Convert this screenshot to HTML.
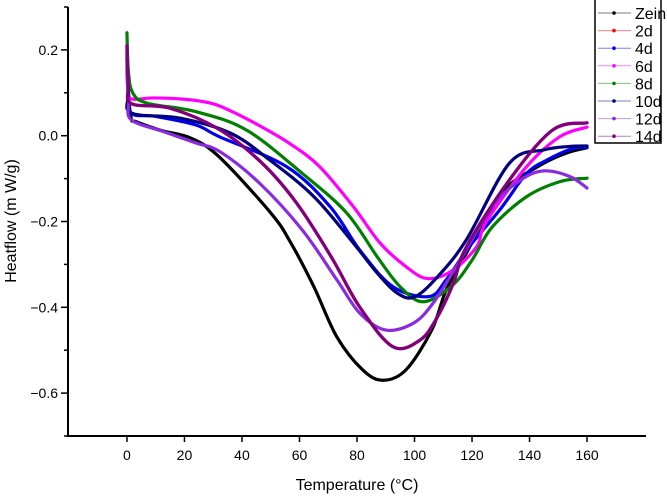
<!DOCTYPE html>
<html><head><meta charset="utf-8"><style>
body{margin:0;background:#fff}
svg{display:block;font-family:"Liberation Sans",Arial,sans-serif}
</style></head><body>
<svg id="chart" width="667" height="497" viewBox="0 0 667 497">
<g id="axes"></g>
<g id="series"></g>
<g id="legend"></g>
<text transform="translate(16,221) rotate(-90)" text-anchor="middle" font-size="16">Heatflow (m W/g)</text>
<text x="357" y="490" text-anchor="middle" font-size="16">Temperature (°C)</text>
</svg>
<script>
const seriesNames=["Zein","2d","4d","6d","8d","10d","12d","14d"];
const seriesColors=["#000000","#ff0000","#0000ee","#ff00ff","#008000","#000080","#8a2be2","#800080"];
const xTicks=[0,20,40,60,80,100,120,140,160];
const yTicks=[0.2,0.0,-0.2,-0.4,-0.6];
const yMinor=[0.3,0.1,-0.1,-0.3,-0.5,-0.7];
const tZein=[0,0.5,1.5,3,12,22,32,50,57,65,73,82,89,97,106,111,118,125,132,145,153,160];
const vZein=[0.19,0.1,0.04,0.033,0.012,-0.005,-0.049,-0.18,-0.25,-0.352,-0.469,-0.546,-0.57,-0.546,-0.453,-0.36,-0.274,-0.19,-0.12,-0.064,-0.04,-0.028];
const t2d=[0,0.5,1.5,15,32,47,59,71,81,92.5,102,108,113.5,118,133,148,160];
const v2d=[0.21,0.12,0.075,0.064,0.015,-0.064,-0.157,-0.282,-0.4,-0.492,-0.476,-0.422,-0.344,-0.26,-0.103,0.013,0.03];
const t4d=[0,0.5,1.5,10,24,32,55.5,70.6,81,92.5,105,111,119,130,139,146,155,160];
const v4d=[0.2,0.1,0.052,0.045,0.025,-0.002,-0.072,-0.165,-0.267,-0.352,-0.375,-0.336,-0.259,-0.17,-0.088,-0.057,-0.03,-0.028];
const t6d=[0,0.5,2,9,20,29,36,47,57,67,78.7,88,97,104.5,113,121.6,125,139,150.6,160];
const v6d=[0.15,0.1,0.085,0.088,0.085,0.076,0.058,0.02,-0.02,-0.072,-0.165,-0.25,-0.305,-0.333,-0.315,-0.259,-0.2,-0.072,-0.002,0.02];
const t8d=[0,0.5,2,7,24,41.6,61,76.4,87,95,103,113,120,127,139,150.6,160];
const v8d=[0.24,0.15,0.1,0.076,0.056,0.013,-0.088,-0.18,-0.282,-0.352,-0.387,-0.35,-0.29,-0.213,-0.142,-0.107,-0.099];
const t10d=[0,0.5,1.5,18.4,36,49.7,65,78.7,87,94,100,108,118,133,145,154,160];
const v10d=[0.18,0.1,0.053,0.041,0.006,-0.057,-0.142,-0.25,-0.32,-0.367,-0.376,-0.329,-0.243,-0.064,-0.033,-0.025,-0.024];
const t12d=[0,0.5,1.5,12.5,24,32.3,46,61,73,81,90,99.6,106.5,115,127,137,145,154,160];
const v12d=[0.15,0.08,0.037,0.01,-0.017,-0.037,-0.11,-0.22,-0.336,-0.414,-0.453,-0.437,-0.39,-0.3,-0.165,-0.103,-0.082,-0.095,-0.122];
const t14d=[0,0.5,1.5,15,32,47,59,71,81,92.5,102,108,113.5,118,133,148,160];
const v14d=[0.21,0.12,0.075,0.064,0.015,-0.064,-0.157,-0.282,-0.4,-0.492,-0.476,-0.422,-0.344,-0.26,-0.103,0.013,0.03];
const allT=[tZein,t2d,t4d,t6d,t8d,t10d,t12d,t14d];
const allV=[vZein,v2d,v4d,v6d,v8d,v10d,v12d,v14d];

const X0=68,X1=646,Y0=7,Y1=436,xmin=-20.5,xmax=180.5,ymin=-0.7,ymax=0.3;
const sx=t=>X0+(t-xmin)/(xmax-xmin)*(X1-X0);
const sy=v=>Y1-(v-ymin)/(ymax-ymin)*(Y1-Y0);
const NS="http://www.w3.org/2000/svg";
function mk(tag,attrs,parent){const e=document.createElementNS(NS,tag);for(const k in attrs)e.setAttribute(k,attrs[k]);parent.appendChild(e);return e;}
const axes=document.getElementById('axes');
let el=mk('line',{x1:X0,y1:Y0,x2:X0,y2:Y1,stroke:'#000','stroke-width':2},axes);


el=mk('line',{x1:X0-1,y1:Y1,x2:X1,y2:Y1,stroke:'#000','stroke-width':2},axes);


xTicks.forEach(t=>{
  const x=sx(t);
  let tk=mk('line',{x1:x,y1:Y1,x2:x,y2:Y1+6,stroke:'#000','stroke-width':1.5},axes);
  
  
  let lb=mk('text',{x:x,y:Y1+24,'text-anchor':'middle','font-size':14},axes);
  lb.textContent=t;
  
  
});
yTicks.forEach(v=>{
  const y=sy(v);
  let tk=mk('line',{x1:X0-7,y1:y,x2:X0,y2:y,stroke:'#000','stroke-width':1.5},axes);
  
  
  let lb=mk('text',{x:X0-10,y:y+5,'text-anchor':'end','font-size':14},axes);
  lb.textContent=(v<0?'\u2212':'')+Math.abs(v).toFixed(1);
  
  
});
yMinor.forEach(v=>{
  const y=sy(v);
  let tk=mk('line',{x1:X0-4,y1:y,x2:X0,y2:y,stroke:'#000','stroke-width':1.5},axes);
  
  
});
function pathD(ts,vs){
  const p=ts.map((t,i)=>[sx(t),sy(vs[i])]);
  let d='M'+p[0][0]+','+p[0][1];
  for(let i=0;i<p.length-1;i++){
    const p0=p[Math.max(0,i-1)],p1=p[i],p2=p[i+1],p3=p[Math.min(p.length-1,i+2)];
    const c1=[p1[0]+(p2[0]-p0[0])/6,p1[1]+(p2[1]-p0[1])/6];
    const c2=[p2[0]-(p3[0]-p1[0])/6,p2[1]-(p3[1]-p1[1])/6];
    d+=' C'+c1[0]+','+c1[1]+' '+c2[0]+','+c2[1]+' '+p2[0]+','+p2[1];
  }
  return d;
}
const sg=document.getElementById('series');
seriesNames.forEach((n,i)=>{
  const p=mk('path',{d:pathD(allT[i],allV[i]),fill:'none',stroke:seriesColors[i],'stroke-width':3.2,'stroke-linejoin':'round','stroke-linecap':'round'},sg);
  
  
});
const lg=document.getElementById('legend');
el=mk('rect',{x:595,y:-2,width:66,height:145,fill:'#fff',stroke:'#000','stroke-width':1.5},lg);


seriesNames.forEach((n,i)=>{
  const y=13+i*17.6;
  const g=mk('g',{},lg);
  
  
  mk('line',{x1:598,y1:y,x2:631,y2:y,stroke:seriesColors[i],'stroke-width':1,opacity:0.5},g);
  mk('circle',{cx:614,cy:y,r:1.8,fill:seriesColors[i]},g);
  const t=mk('text',{x:635,y:y+6,'font-size':16},g);
  t.textContent=n;
});
</script>
</body></html>
